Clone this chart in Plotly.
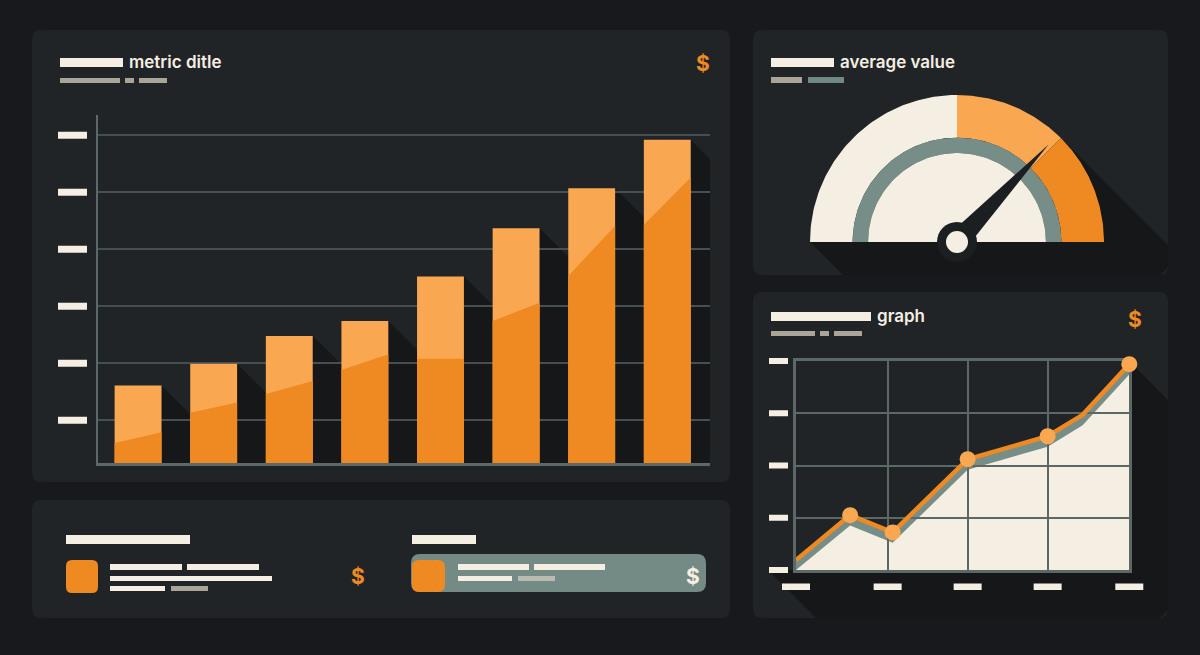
import numpy as np
import plotly.graph_objects as go

W, H = 1200, 655

# ---------------- data ----------------
bar_labels = ["Jan", "Feb", "Mar", "Apr", "May", "Jun", "Jul", "Aug"]
bar_values = [13.6, 17.4, 22.3, 24.9, 32.7, 41.2, 48.2, 56.7]
bar_split_left = [3.5, 8.8, 12.1, 16.3, 18.3, 24.9, 32.8, 41.8]
bar_split_right = [5.4, 10.6, 14.4, 19.1, 18.3, 28.1, 41.6, 50.1]
bar_grid_ticks = [7.5, 17.5, 27.5, 37.5, 47.5, 57.5]

gauge_value = 74
gauge_steps = [0, 50, 75, 100]

line_x = [0, 0.65, 1.16, 2.06, 3.02, 3.44, 4.0]
line_y = [0.19, 1.05, 0.72, 2.12, 2.56, 2.97, 3.94]
line_marked = [False, True, True, True, True, False, True]
line_x_ticks = [0, 1.1, 2.06, 3.02, 4]
line_y_ticks = [0, 1, 2, 3, 4]

# ---------------- styles ----------------
BG = "#17191c"
PANEL = "#212427"
SHADOW = "#151719"
CREAM = "#f5efe3"
LIGHT = "#f9a851"
DARK = "#ef8a23"
TEAL = "#768d88"
SUBGRAY = "#a9a698"
GRID_BAR = "#465053"
AXIS_BAR = "#5d6868"
GRID_LINE = "#5b6866"
NEEDLE = "#1c1f22"


def px(x):
    return x / W


def py(y):
    return 1 - y / H


def rrect(x0, y0, x1, y1, r):
    a0, a1 = px(x0), px(x1)
    b0, b1 = py(y0), py(y1)
    rx, ry = r / W, r / H
    return (f"M {a0+rx},{b0} L {a1-rx},{b0} Q {a1},{b0} {a1},{b0-ry} "
            f"L {a1},{b1+ry} Q {a1},{b1} {a1-rx},{b1} L {a0+rx},{b1} "
            f"Q {a0},{b1} {a0},{b1+ry} L {a0},{b0-ry} Q {a0},{b0} {a0+rx},{b0} Z")


def poly(points):
    return "M " + " L ".join(f"{px(x)},{py(y)}" for x, y in points) + " Z"


fig = go.Figure()

# ---------------- bar chart ----------------
idx = list(range(len(bar_values)))
BW = 0.62
XR_BAR = [-0.53, 7.565]
YR_BAR = [0, 61.05]
DX_BAR = [px(98), px(710)]
DY_BAR = [py(463), py(115)]
ppx = (710 - 98) / (XR_BAR[1] - XR_BAR[0])
ppy = (463 - 115) / (YR_BAR[1] - YR_BAR[0])

sx, sy = [], []
for i, v in zip(idx, bar_values):
    xr = i + BW / 2
    g = 1 - BW
    drop = g * ppx / ppy
    sx += [xr, xr + g, xr + g, xr, xr, None]
    sy += [v, max(v - drop, 0), 0, 0, v, None]
fig.add_trace(go.Scatter(x=sx, y=sy, mode="lines", fill="toself", fillcolor=SHADOW,
                         line=dict(width=0), hoverinfo="skip", xaxis="x", yaxis="y"))

fig.add_trace(go.Bar(x=idx, y=bar_values, width=BW, marker=dict(color=LIGHT, line=dict(width=0)),
                     hovertext=bar_labels, xaxis="x2", yaxis="y2"))
dx, dy = [], []
for i, a, b in zip(idx, bar_split_left, bar_split_right):
    dx += [i - BW / 2, i - BW / 2, i + BW / 2, i + BW / 2, i - BW / 2, None]
    dy += [0, a, b, 0, 0, None]
fig.add_trace(go.Scatter(x=dx, y=dy, mode="lines", fill="toself", fillcolor=DARK,
                         line=dict(width=0), hoverinfo="skip", xaxis="x2", yaxis="y2"))

# ---------------- line chart ----------------
XR_L = [0, 4]
YR_L = [0, 4]
DX_L = [px(796), px(1129.3)]
DY_L = [py(570), py(361)]


def lx(t):
    return DX_L[0] + (t - XR_L[0]) / (XR_L[1] - XR_L[0]) * (DX_L[1] - DX_L[0])


def ly(t):
    return DY_L[0] + (t - YR_L[0]) / (YR_L[1] - YR_L[0]) * (DY_L[1] - DY_L[0])


band = 0.2
fig.add_trace(go.Scatter(x=line_x, y=line_y, mode="lines", fill="tozeroy", fillcolor=TEAL,
                         line=dict(width=0), hoverinfo="skip", xaxis="x3", yaxis="y3"))
fig.add_trace(go.Scatter(x=line_x, y=[max(v - band, 0) for v in line_y], mode="lines",
                         fill="tozeroy", fillcolor=CREAM, line=dict(width=0),
                         hoverinfo="skip", xaxis="x3", yaxis="y3"))
fig.add_trace(go.Scatter(x=line_x, y=line_y, mode="lines+markers",
                         line=dict(color=DARK, width=4.5),
                         marker=dict(size=[16 if m else 0 for m in line_marked], color=LIGHT,
                                     opacity=1, line=dict(width=0)),
                         cliponaxis=False, xaxis="x4", yaxis="y4"))

# ---------------- gauge ----------------
DX_G = [px(797), px(1117)]
DY_G = [py(277), py(92)]
XR_G = [-160 / 147, 160 / 147]
YR_G = [-35 / 147, 150 / 147]


def theta(v):
    return np.pi * (1 - v / 100.0)


def sector(r0, r1, v0, v1, n=80):
    t = np.linspace(theta(v0), theta(v1), n)
    xs = list(r1 * np.cos(t)) + list(r0 * np.cos(t[::-1]))
    ys = list(r1 * np.sin(t)) + list(r0 * np.sin(t[::-1]))
    return xs + [xs[0]], ys + [ys[0]]


step_colors = [CREAM, LIGHT, DARK]
for k in range(len(gauge_steps) - 1):
    gx, gy = sector(0.71, 1.0, gauge_steps[k], gauge_steps[k + 1])
    fig.add_trace(go.Scatter(x=gx, y=gy, mode="lines", fill="toself", fillcolor=step_colors[k],
                             line=dict(width=0), hoverinfo="skip", xaxis="x5", yaxis="y5"))
gx, gy = sector(0.605, 0.71, gauge_steps[0], gauge_steps[-1])
fig.add_trace(go.Scatter(x=gx, y=gy, mode="lines", fill="toself", fillcolor=TEAL,
                         line=dict(width=0), hoverinfo="skip", xaxis="x5", yaxis="y5"))
gx, gy = sector(0.0, 0.605, gauge_steps[0], gauge_steps[-1])
fig.add_trace(go.Scatter(x=gx, y=gy, mode="lines", fill="toself", fillcolor=CREAM,
                         line=dict(width=0), hoverinfo="skip", xaxis="x5", yaxis="y5"))
tv = theta(gauge_value)
tip = (0.91 * np.cos(tv), 0.91 * np.sin(tv))
hw = 0.075
perp = (-np.sin(tv), np.cos(tv))
fig.add_trace(go.Scatter(x=[hw * perp[0], tip[0], -hw * perp[0], hw * perp[0]],
                         y=[hw * perp[1], tip[1], -hw * perp[1], hw * perp[1]],
                         mode="lines", fill="toself", fillcolor=NEEDLE, line=dict(width=0),
                         hoverinfo="skip", xaxis="x5", yaxis="y5"))
fig.add_trace(go.Scatter(x=[0], y=[0], mode="markers",
                         marker=dict(size=40, color=NEEDLE, opacity=1),
                         hoverinfo="skip", cliponaxis=False, xaxis="x5", yaxis="y5"))
fig.add_trace(go.Scatter(x=[0], y=[0], mode="markers",
                         marker=dict(size=22, color=CREAM, opacity=1),
                         hoverinfo="skip", cliponaxis=False, xaxis="x5", yaxis="y5"))

# ---------------- shapes ----------------
shapes = []
for (x0, y0, x1, y1) in [(32, 30, 730, 482), (753, 30, 1168, 275),
                         (753, 292, 1168, 618), (32, 500, 730, 618)]:
    shapes.append(dict(type="path", path=rrect(x0, y0, x1, y1, 9), xref="paper", yref="paper",
                       fillcolor=PANEL, line=dict(width=0), layer="below"))
# long shadows
shapes.append(dict(type="path", path=poly([(810, 242), (843, 275), (1160, 275), (1168, 267),
                                           (1168, 245), (1061, 138), (957, 242)]),
                   xref="paper", yref="paper", fillcolor=SHADOW, line=dict(width=0), layer="below"))
shapes.append(dict(type="path", path=poly([(768, 570), (816, 618), (1160, 618), (1168, 610),
                                           (1168, 400), (1129.3, 361), (1129.3, 570)]),
                   xref="paper", yref="paper", fillcolor=SHADOW, line=dict(width=0), layer="below"))


def rect(x0, y0, x1, y1, color, r=0):
    if r:
        return dict(type="path", path=rrect(x0, y0, x1, y1, r), xref="paper", yref="paper",
                    fillcolor=color, line=dict(width=0), layer="above")
    return dict(type="rect", x0=px(x0), x1=px(x1), y0=py(y1), y1=py(y0), xref="paper",
                yref="paper", fillcolor=color, line=dict(width=0), layer="above")


# title placeholders
shapes += [rect(60, 58, 123, 67, CREAM), rect(60, 78, 120, 83, SUBGRAY),
           rect(125, 78, 134, 83, SUBGRAY), rect(139, 78, 167, 83, SUBGRAY)]
shapes += [rect(771, 58, 834, 67, CREAM), rect(771, 77, 802, 83, SUBGRAY),
           rect(808, 77, 844, 83, "#6f8884")]
shapes += [rect(771, 312, 871, 321, CREAM), rect(771, 331, 815, 336, SUBGRAY),
           rect(820, 331, 829, 336, SUBGRAY), rect(834, 331, 862, 336, SUBGRAY)]
# bottom panel
shapes += [rect(66, 535, 190, 544, CREAM), rect(66, 560, 98, 593, DARK, 6),
           rect(110, 564, 182, 570, CREAM), rect(187, 564, 259, 570, CREAM),
           rect(110, 576, 272, 581, CREAM), rect(110, 586, 165, 591, CREAM),
           rect(171, 586, 208, 591, SUBGRAY)]
shapes += [rect(412, 535, 476, 544, CREAM), rect(411, 554, 706, 592, "#748a84", 9),
           rect(412, 560, 445, 592, DARK, 7),
           rect(458, 564, 529, 570, CREAM), rect(534, 564, 605, 570, CREAM),
           rect(458, 576, 512, 581, CREAM), rect(518, 576, 555, 581, "#b9bab0")]
# tick-label placeholders
for t in bar_grid_ticks:
    shapes.append(dict(type="rect", xref="paper", yref="y2", x0=px(58), x1=px(87),
                       ysizemode="pixel", yanchor=t, y0=-3.5, y1=3.5,
                       fillcolor=CREAM, line=dict(width=0), layer="above"))
for t in line_y_ticks:
    shapes.append(dict(type="rect", xref="paper", yref="paper", x0=px(769), x1=px(788),
                       ysizemode="pixel", yanchor=ly(t), y0=-3, y1=3,
                       fillcolor=CREAM, line=dict(width=0), layer="above"))
for t in line_x_ticks:
    shapes.append(dict(type="rect", xref="paper", yref="paper", y0=py(590), y1=py(583.5),
                       xsizemode="pixel", xanchor=lx(t), x0=-14, x1=14,
                       fillcolor=CREAM, line=dict(width=0), layer="above"))

# ---------------- text ----------------
TFONT = dict(family="Inter, Lato, sans-serif", size=17, color=CREAM, weight=600)
DFONT = dict(family="Inter, Lato, sans-serif", size=21, color=DARK, weight=700)
annotations = [
    dict(text="metric ditle", x=px(127), y=py(62), font=TFONT),
    dict(text="average value", x=px(838), y=py(62), font=TFONT),
    dict(text="graph", x=px(875), y=py(316), font=TFONT),
]
for a in annotations:
    a.update(xref="paper", yref="paper", xanchor="left", yanchor="middle", showarrow=False)
for (x, y, c) in [(703, 64, DARK), (1135, 320, DARK), (358, 576, DARK), (693, 576, CREAM)]:
    annotations.append(dict(text="$", x=px(x), y=py(y), xref="paper", yref="paper",
                            xanchor="center", yanchor="middle", showarrow=False,
                            font=dict(DFONT, color=c)))

hidden = dict(visible=False, fixedrange=True)
fig.update_layout(
    width=W, height=H, margin=dict(l=0, r=0, t=0, b=0),
    paper_bgcolor=BG, plot_bgcolor="rgba(0,0,0,0)", showlegend=False,
    shapes=shapes, annotations=annotations, hovermode=False,
    xaxis=dict(hidden, domain=DX_BAR, range=XR_BAR, anchor="y"),
    yaxis=dict(hidden, domain=DY_BAR, range=YR_BAR, anchor="x"),
    xaxis2=dict(domain=DX_BAR, range=XR_BAR, anchor="y2", showgrid=False, zeroline=False,
                showline=True, linecolor=AXIS_BAR, linewidth=3, showticklabels=False,
                ticks="", fixedrange=True),
    yaxis2=dict(domain=DY_BAR, range=YR_BAR, anchor="x2", tickvals=bar_grid_ticks,
                gridcolor=GRID_BAR, gridwidth=1.5, zeroline=False, showline=True,
                linecolor=AXIS_BAR, linewidth=2, showticklabels=False, ticks="",
                fixedrange=True),
    xaxis3=dict(hidden, domain=DX_L, range=XR_L, anchor="y3"),
    yaxis3=dict(hidden, domain=DY_L, range=YR_L, anchor="x3"),
    xaxis4=dict(domain=DX_L, range=XR_L, anchor="y4", tickvals=line_x_ticks,
                gridcolor=GRID_LINE, gridwidth=2, zeroline=False, showline=True, mirror=True,
                linecolor=GRID_LINE, linewidth=2.5, showticklabels=False, ticks="",
                layer="below traces", fixedrange=True),
    yaxis4=dict(domain=DY_L, range=YR_L, anchor="x4", tickvals=line_y_ticks,
                gridcolor=GRID_LINE, gridwidth=2, zeroline=False, showline=True, mirror=True,
                linecolor=GRID_LINE, linewidth=2.5, showticklabels=False, ticks="",
                layer="below traces", fixedrange=True),
    xaxis5=dict(hidden, domain=DX_G, range=XR_G, anchor="y5"),
    yaxis5=dict(hidden, domain=DY_G, range=YR_G, anchor="x5"),
)

fig.write_html("out.html", config=dict(displayModeBar=False))
